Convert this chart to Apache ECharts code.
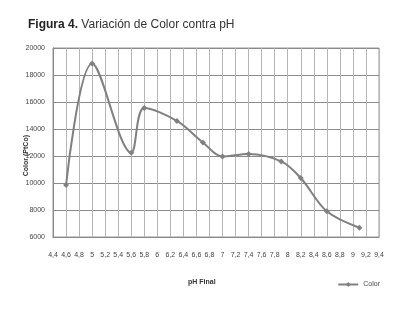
<!DOCTYPE html>
<html><head><meta charset="utf-8">
<script src="https://cdn.jsdelivr.net/npm/echarts@6/dist/echarts.min.js"></script>
<style>html,body{margin:0;padding:0;background:#fff}#c{width:409px;height:309px}</style>
</head><body><div id="c"></div>
<script>
const phValues = [4.6, 5.0, 5.6, 5.8, 6.3, 6.7, 7.0, 7.4, 7.9, 8.2, 8.6, 9.1];
const colorValues = [9850, 18850, 12250, 15550, 14600, 13000, 11970, 12150, 11600, 10370, 7900, 6690];
const seriesName = 'Color';
const xAxisTitle = 'pH Final';
const yAxisTitle = 'Color (PtCo)';
const FONT = '"Liberation Sans", Arial, sans-serif';

const chart = echarts.init(document.getElementById('c'), null, {renderer: 'canvas'});
chart.setOption({
  animation: false,
  backgroundColor: '#fff',
  title: {
    text: '{b|Figura 4.}{n| Variación de Color contra pH}',
    left: 23, top: 14,
    textStyle: {
      fontWeight: 'normal',
      rich: {
        b: {fontFamily: FONT, fontSize: 12, fontWeight: 'bold', color: '#222'},
        n: {fontFamily: FONT, fontSize: 12, fontWeight: 'normal', color: '#333'}
      }
    }
  },
  grid: {left: 53, top: 48, right: 30, bottom: 72, show: true, borderColor: '#999', borderWidth: 1},
  xAxis: {
    type: 'value', min: 4.4, max: 9.4, interval: 0.2,
    axisLine: {show: true, lineStyle: {color: '#888'}},
    axisTick: {show: false},
    splitLine: {show: true, lineStyle: {color: '#b5b5b5', width: 1}},
    axisLabel: {
      fontFamily: FONT, fontSize: 7, color: '#444', margin: 15,
      formatter: v => (Math.round(v * 10) / 10).toString().replace('.', ',')
    }
  },
  yAxis: {
    type: 'value', min: 6000, max: 20000, interval: 2000,
    axisLine: {show: true, lineStyle: {color: '#888'}},
    axisTick: {show: false},
    splitLine: {show: true, lineStyle: {color: '#8a8a8a', width: 1}},
    axisLabel: {fontFamily: FONT, fontSize: 7, color: '#444', margin: 8, formatter: v => String(v)}
  },
  legend: {
    data: [seriesName], right: 24, top: 276, itemWidth: 20, itemHeight: 6, itemGap: 4,
    textStyle: {fontFamily: FONT, fontSize: 7, color: '#444'}
  },
  graphic: [{
    type: 'text', left: 23, top: 135, rotation: Math.PI / 2,
    style: {text: yAxisTitle, fontFamily: FONT, fontSize: 7, fontWeight: 'bold', fill: '#333'}
  }, {
    type: 'text', left: 188, top: 279,
    style: {text: xAxisTitle, fontFamily: FONT, fontSize: 7, fontWeight: 'bold', fill: '#333'}
  }],
  series: [{
    name: seriesName, type: 'line', smooth: 0.35,
    data: phValues.map((x, i) => [x, colorValues[i]]),
    symbol: 'diamond', symbolSize: 6,
    lineStyle: {color: '#808080', width: 2},
    itemStyle: {color: '#808080'}
  }]
});
</script></body></html>
